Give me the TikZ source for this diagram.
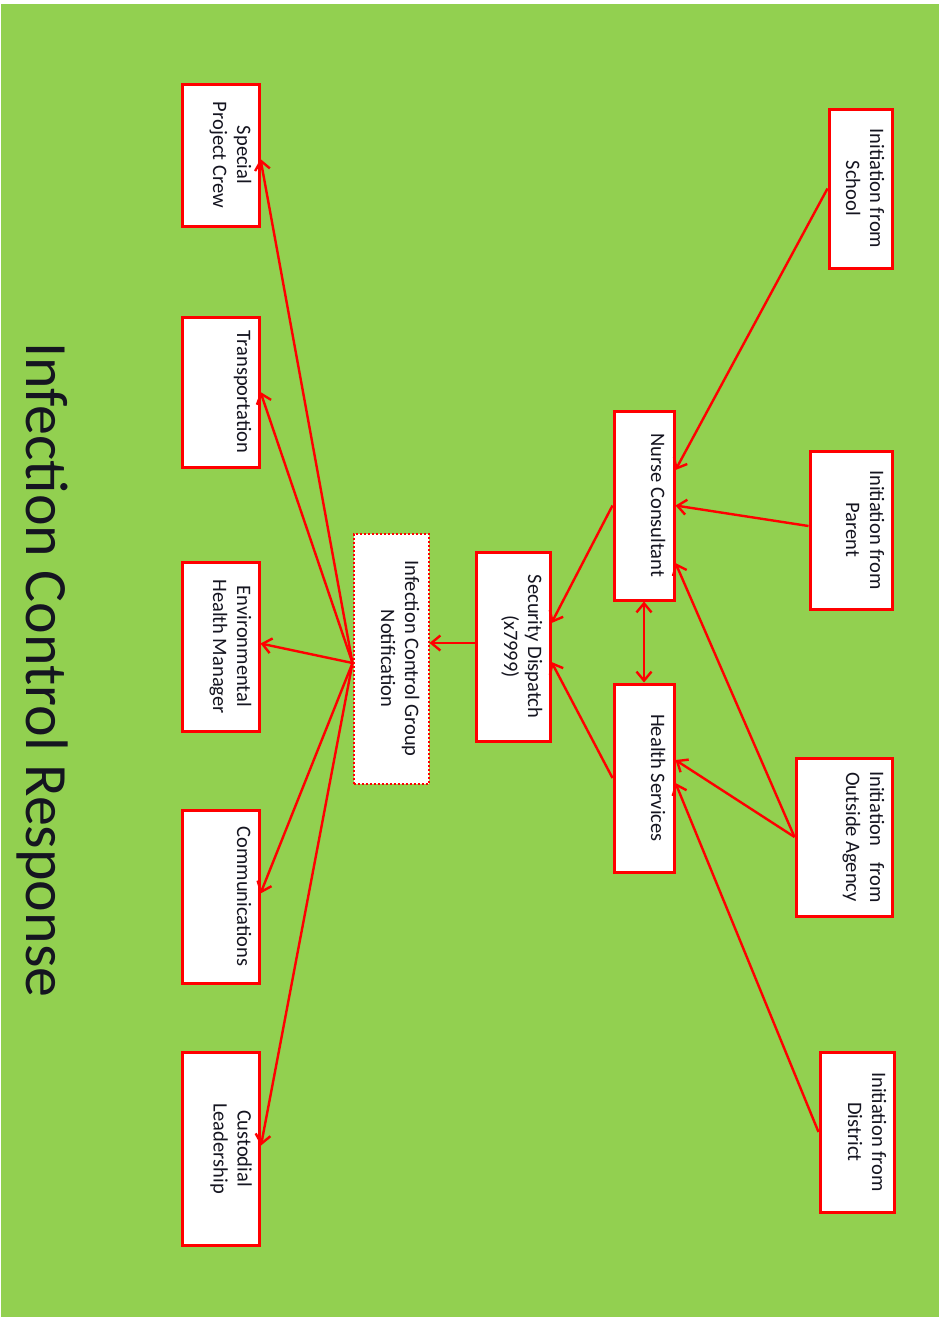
\documentclass[tikz,border=0pt]{standalone}
\usepackage{fontspec}
\setmainfont{Carlito}
\usetikzlibrary{arrows.meta,calc}
\definecolor{bg}{HTML}{92D050}
\definecolor{txtc}{HTML}{151520}
\tikzset{
  box/.style={draw=red, line width=3pt, fill=white, inner sep=0pt},
  dotbox/.style={draw=red, line width=2pt, dash pattern=on 2pt off 2pt, fill=white, inner sep=0pt},
  lbl/.style={rotate=-90, anchor=north, inner sep=0pt, align=center, text=txtc, font=\fontsize{20.5}{24}\selectfont},
  conn/.style={draw=red, line width=2.4pt, -{Straight Barb[length=9pt,width=15pt,line width=2.4pt]}},
  dconn/.style={draw=red, line width=2.4pt, {Straight Barb[length=9pt,width=15pt,line width=2.4pt]}-{Straight Barb[length=9pt,width=15pt,line width=2.4pt]}}
}
\begin{document}
\begin{tikzpicture}[x=1pt,y=-1pt]
\useasboundingbox (0,0) rectangle (939,1317);
\fill[white] (0,0) rectangle (939,1317);
\fill[bg] (1,4) rectangle (939,1317);

% title
\node[rotate=-90, anchor=base, inner sep=0pt, text=txtc, font=\fontsize{60}{72}\selectfont] (title) at (27,670) {Infection Control Response};

% left column
\node[box, minimum width=77pt, minimum height=142pt] (special) at (220.5,155) {};
\node[box, minimum width=77pt, minimum height=150pt] (transport) at (220.5,392) {};
\node[box, minimum width=77pt, minimum height=169pt] (env) at (220.5,646.5) {};
\node[box, minimum width=77pt, minimum height=173pt] (comm) at (220.5,896.5) {};
\node[box, minimum width=77pt, minimum height=193pt] (cust) at (221,1148.5) {};

% middle
\node[dotbox, minimum width=75pt, minimum height=250pt] (icg) at (391,658.5) {};
\node[box, minimum width=74pt, minimum height=189pt] (sec) at (513,646.5) {};
\node[box, minimum width=60pt, minimum height=189pt] (nurse) at (644,505.5) {};
\node[box, minimum width=60pt, minimum height=188pt] (health) at (644,778) {};

% right column
\node[box, minimum width=63pt, minimum height=159pt] (school) at (860.5,188.5) {};
\node[box, minimum width=82pt, minimum height=158pt] (parent) at (851,530) {};
\node[box, minimum width=96pt, minimum height=158pt] (agency) at (844,837) {};
\node[box, minimum width=74pt, minimum height=160pt] (district) at (857,1132) {};

% labels
\node[lbl] (special-t) at ($(special.east)+(-9,0)$) {Special\\Project Crew};
\node[lbl] (transport-t) at ($(transport.east)+(-9,0)$) {Transportation};
\node[lbl] (env-t) at ($(env.east)+(-9,0)$) {Environmental\\Health Manager};
\node[lbl] (comm-t) at ($(comm.east)+(-9,0)$) {Communications};
\node[lbl] (cust-t) at ($(cust.east)+(-9,0)$) {Custodial\\Leadership};
\node[lbl] (icg-t) at ($(icg.east)+(-10,0)$) {Infection Control Group\\Notification};
\node[lbl] (sec-t) at ($(sec.east)+(-9,0)$) {Security Dispatch\\(x7999)};
\node[lbl] (nurse-t) at ($(nurse.east)+(-10,0)$) {Nurse Consultant};
\node[lbl] (health-t) at ($(health.east)+(-10,0)$) {Health Services};
\node[lbl] (school-t) at ($(school.east)+(-9,0)$) {Initiation from\\School};
\node[lbl] (parent-t) at ($(parent.east)+(-9,0)$) {Initiation from\\Parent};
\node[lbl] (agency-t) at ($(agency.east)+(-9,0)$) {Initiation\hspace{0.8em}from\\Outside Agency};
\node[lbl] (district-t) at ($(district.east)+(-9,0)$) {Initiation from\\District};

% connectors: right side
\draw[conn] (school.west) -- ($(nurse.east)+(0,-35.5)$);
\draw[conn] ($(parent.west)+(0,-4)$) -- (nurse.east);
\draw[conn] (agency.west) -- ($(nurse.east)+(0,57.5)$);
\draw[conn] (agency.west) -- ($(health.east)+(0,-18)$);
\draw[conn] (district.west) -- ($(health.east)+(0,5)$);
\draw[dconn] (nurse.south) -- (health.north);
\draw[conn] (nurse.west) -- ($(sec.east)+(0,-23.5)$);
\draw[conn] (health.west) -- ($(sec.east)+(0,15.5)$);
\draw[conn] ($(sec.west)+(0,-3.5)$) -- ($(icg.east)+(0,-15.5)$);

% fan from ICG
\coordinate (fan) at ($(icg.west)+(0,4.5)$);
\draw[conn] (fan) -- ($(special.east)+(0,4)$);
\draw[conn] (fan) -- (transport.east);
\draw[conn] (fan) -- ($(env.east)+(0,-3)$);
\draw[conn] (fan) -- ($(comm.east)+(0,-3)$);
\draw[conn] (fan) -- ($(cust.east)+(0,-3)$);
\end{tikzpicture}
\end{document}
